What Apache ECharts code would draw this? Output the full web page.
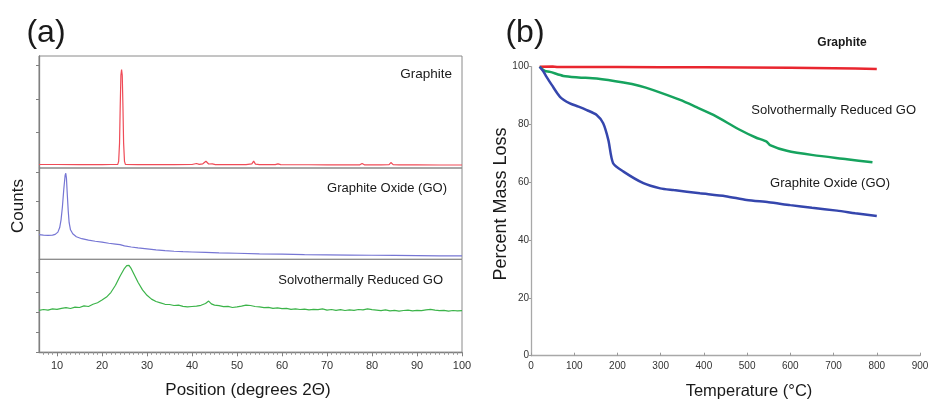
<!DOCTYPE html>
<html><head><meta charset="utf-8">
<script src="https://cdn.jsdelivr.net/npm/echarts@6/dist/echarts.min.js"></script>
<style>html,body{margin:0;padding:0;background:#fff}#c{width:929px;height:403px}</style>
</head><body><div id="c"></div>
<script>
// ---- Panel (a): XRD patterns, [2theta, counts] ----
const xrdGraphite = [[6,60],[10,60],[15,58],[20,58],[22,60],[23.5,65],[23.7,150],[23.9,700],[24.05,1800],[24.2,2700],[24.35,2870],[24.5,2700],[24.65,1800],[24.8,700],[25.0,150],[25.2,65],[28,58],[32,56],[36,56],[40,60],[41,90],[41.6,65],[42.4,80],[43.1,155],[43.7,75],[44.5,80],[45.2,58],[48,55],[52,55],[53.3,80],[53.7,160],[54.1,70],[55,55],[58.5,56],[59.1,80],[59.7,55],[62,52],[66,52],[70,50],[74,50],[77.3,50],[77.8,90],[78.3,50],[82,48],[83.8,55],[84.2,118],[84.7,55],[86,48],[90,46],[95,45],[100,45]];
const xrdGO = [[6,830],[7,815],[8,805],[9,815],[9.6,840],[10.2,920],[10.6,1080],[10.9,1350],[11.2,1800],[11.5,2400],[11.8,2900],[11.95,2980],[12.1,2800],[12.3,2200],[12.5,1650],[12.7,1250],[13.0,1000],[13.5,860],[14.3,760],[15.5,690],[17,640],[18.5,600],[20,570],[21.5,530],[23,500],[24,480],[25,440],[26.5,400],[28,370],[30,335],[32,300],[34,270],[36,250],[38,235],[40,225],[43,210],[46,195],[50,180],[55,160],[60,148],[65,135],[70,125],[75,118],[80,110],[85,104],[90,98],[95,92],[100,86]];
const xrdRGO = [[6,2100],[7,2140],[8,2110],[9,2170],[10,2150],[11,2200],[12,2230],[13,2190],[14,2260],[15,2240],[16,2320],[17,2290],[18,2400],[19,2480],[20,2610],[21,2760],[22,3000],[23,3350],[24,3800],[25,4200],[25.5,4330],[26,4350],[26.5,4180],[27,3950],[28,3500],[29,3120],[30,2850],[31,2660],[32,2540],[33,2470],[34,2400],[35,2390],[36,2340],[37,2360],[38,2300],[39,2270],[40,2290],[41,2310],[42,2350],[43,2440],[43.7,2560],[44.3,2420],[45,2360],[46,2330],[47,2280],[48,2300],[49,2240],[50,2270],[51,2310],[52,2360],[53,2340],[54,2290],[55,2270],[56,2230],[57,2250],[58,2200],[59,2220],[60,2180],[61,2200],[62,2150],[63,2170],[64,2140],[65,2160],[66,2120],[67,2150],[68,2130],[69,2170],[70,2110],[71,2140],[72,2100],[73,2130],[74,2090],[75,2120],[76,2100],[77,2140],[78,2120],[79,2170],[80,2130],[81,2110],[82,2080],[83,2120],[84,2070],[85,2100],[86,2060],[87,2090],[88,2110],[89,2070],[90,2100],[91,2080],[92,2120],[93,2150],[94,2110],[95,2080],[96,2100],[97,2060],[98,2090],[99,2070],[100,2080]];
const xrdTicks = [10,20,30,40,50,60,70,80,90,100];
const countTicksTop = [1000,2000,3000];
const countTicksMid = [1000,2000,3000];
const countTicksBot = [0,1000,2000,3000,4000];

// ---- Panel (b): TGA, [temperature C, percent] ----
const tgaGraphite = [[20,100],[50,100.1],[60,99.9],[100,99.9],[150,99.9],[200,99.9],[300,99.8],[400,99.8],[500,99.7],[600,99.6],[700,99.5],[750,99.4],[800,99.2]];
const tgaRGO = [[20,100],[25,99.3],[32,98.5],[44,98.2],[75,96.8],[110,96.3],[152,95.9],[214,94.5],[250,93.4],[283,91.9],[345,88.5],[380,86.2],[422,83.3],[484,78.1],[520,75.5],[545,74.1],[553,72.9],[592,70.9],[653,69.4],[731,68.0],[790,66.9]];
const tgaGO = [[20,100],[28,98.5],[36,96.5],[48,93.7],[67,89.6],[90,87.3],[110,86.2],[129,85.0],[152,83.3],[167,80.4],[179,74.6],[190,66.6],[214,63.7],[260,59.7],[299,57.9],[330,57.3],[391,56.2],[450,55.2],[499,53.9],[550,53.1],[600,52.1],[650,51.2],[708,50.2],[750,49.3],[800,48.3]];

const minorTicks = [];
for (let v = 7; v <= 100; v++) if (v % 10) minorTicks.push(v);

const chart = echarts.init(document.getElementById('c'), null, {renderer: 'canvas'});
const FONT = 'Liberation Sans, Arial, sans-serif';
const axGray = '#808080';
const boxA = {show: true, borderColor: '#8a8a8a', borderWidth: 1, backgroundColor: 'transparent', outerBoundsMode: 'none', containLabel: false};

function yA(grid, min, max, ticks) {
  return {type: 'value', gridIndex: grid, min: min, max: max,
    axisLine: {show: true, lineStyle: {color: axGray, width: 1.3}},
    axisTick: {show: true, customValues: ticks, length: 3, lineStyle: {color: axGray}},
    axisLabel: {show: false}, splitLine: {show: false}};
}
function xHidden(grid) {
  return {type: 'value', gridIndex: grid, min: 6, max: 100, show: false, splitLine: {show: false}};
}
function txt(text, x, y, size, opts) {
  opts = opts || {};
  return {type: 'text', x: x, y: y, rotation: opts.rot || 0, silent: true, z: 100,
    style: {text: text, font: (opts.bold ? 'bold ' : '') + size + 'px ' + FONT, fill: opts.fill || '#1a1a1a',
      textAlign: opts.align || 'center', textVerticalAlign: 'middle'}};
}

chart.setOption({
  animation: false,
  backgroundColor: '#fff',
  grid: [
    Object.assign({left: 39, right: 467, top: 56, height: 112}, boxA),
    Object.assign({left: 39, right: 467, top: 168, height: 91.3}, boxA),
    Object.assign({left: 39, right: 467, top: 259.3, height: 93}, boxA),
    {left: 531, right: 9, top: 66.7, height: 289, show: false, outerBoundsMode: 'none', containLabel: false}
  ],
  xAxis: [
    xHidden(0), xHidden(1),
    {type: 'value', gridIndex: 2, min: 6, max: 100, position: 'bottom',
      axisLine: {show: true, lineStyle: {color: axGray, width: 1.3}},
      axisTick: {show: true, customValues: xrdTicks, length: 4, lineStyle: {color: axGray}},
      axisLabel: {show: true, customValues: xrdTicks, fontSize: 11, fontFamily: FONT, color: '#333', margin: 8},
      splitLine: {show: false}},
    {type: 'value', gridIndex: 2, min: 6, max: 100, position: 'bottom', offset: 0,
      axisLine: {show: false},
      axisTick: {show: true, customValues: minorTicks, length: 2.5, lineStyle: {color: '#999'}},
      axisLabel: {show: false}, splitLine: {show: false}},
    {type: 'value', gridIndex: 3, min: 0, max: 900, interval: 100,
      axisLine: {show: true, lineStyle: {color: '#a8a8a8', width: 1.3}},
      axisTick: {show: true, inside: true, length: 3, lineStyle: {color: '#999'}},
      axisLabel: {fontSize: 10, fontFamily: FONT, color: '#333', margin: 6},
      splitLine: {show: false}}
  ],
  yAxis: [
    yA(0, -44, 3269, countTicksTop),
    yA(1, -31, 3163, countTicksMid),
    yA(2, 0, 4650, countTicksBot),
    {type: 'value', gridIndex: 3, min: 0, max: 100, interval: 20,
      axisLine: {show: true, lineStyle: {color: '#a8a8a8', width: 1.3}},
      axisTick: {show: true, length: 2, lineStyle: {color: '#999'}},
      axisLabel: {fontSize: 10, fontFamily: FONT, color: '#333', margin: 2},
      splitLine: {show: false}}
  ],
  series: [
    {type: 'line', xAxisIndex: 0, yAxisIndex: 0, data: xrdGraphite, showSymbol: false, lineStyle: {color: '#ef4b57', width: 1.2}, clip: false},
    {type: 'line', xAxisIndex: 1, yAxisIndex: 1, data: xrdGO, showSymbol: false, lineStyle: {color: '#7676d4', width: 1.2}, clip: false},
    {type: 'line', xAxisIndex: 2, yAxisIndex: 2, data: xrdRGO, showSymbol: false, lineStyle: {color: '#3cb44a', width: 1.2}, clip: false},
    {type: 'line', xAxisIndex: 4, yAxisIndex: 3, data: tgaGraphite, showSymbol: false, lineStyle: {color: '#e9262f', width: 2.5}, clip: false},
    {type: 'line', xAxisIndex: 4, yAxisIndex: 3, data: tgaRGO, showSymbol: false, smooth: 0.25, lineStyle: {color: '#16a35e', width: 2.5}, clip: false},
    {type: 'line', xAxisIndex: 4, yAxisIndex: 3, data: tgaGO, showSymbol: false, smooth: 0.25, lineStyle: {color: '#3546ad', width: 2.5}, clip: false}
  ],
  graphic: [
    txt('(a)', 46, 33, 32),
    txt('(b)', 525, 33, 32),
    txt('Counts', 18, 206, 17, {rot: Math.PI / 2}),
    txt('Position (degrees 2\u0398)', 248, 390, 17),
    txt('Percent Mass Loss', 501, 204, 18, {rot: Math.PI / 2}),
    txt('Temperature (\u00B0C)', 749, 391, 16.5),
    txt('Graphite', 452, 74, 13.5, {align: 'right'}),
    txt('Graphite Oxide (GO)', 447, 188, 13, {align: 'right'}),
    txt('Solvothermally Reduced GO', 443, 280, 13, {align: 'right'}),
    txt('Graphite', 842, 43, 12, {bold: true}),
    txt('Solvothermally Reduced GO', 916, 110, 13, {align: 'right'}),
    txt('Graphite Oxide (GO)', 890, 183, 13, {align: 'right'})
  ]
});
</script></body></html>
